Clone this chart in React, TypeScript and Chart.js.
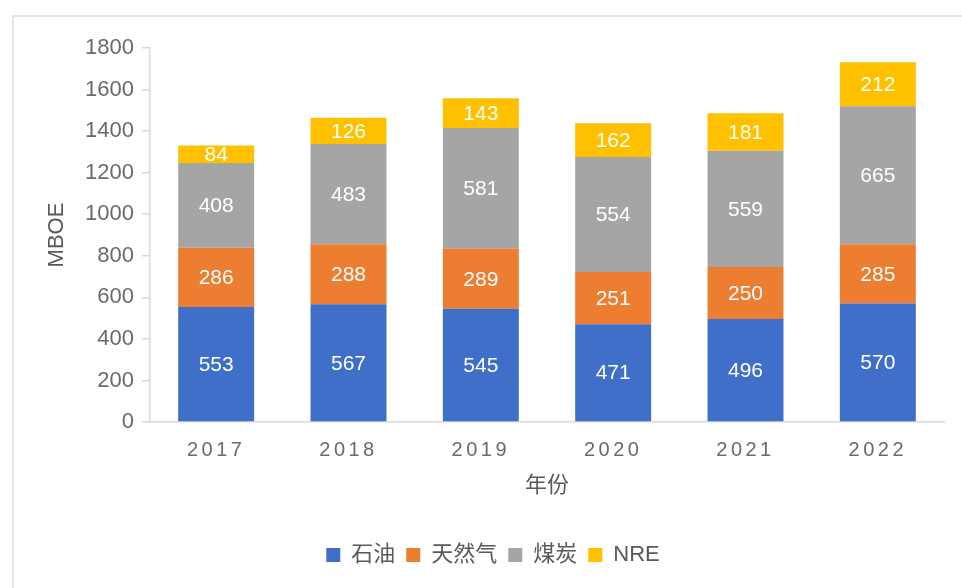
import React, { useEffect, useRef } from "react";
import { Chart, registerables } from "chart.js";

Chart.register(...registerables);

const years = ["2017", "2018", "2019", "2020", "2021", "2022"];
const oil = [553, 567, 545, 471, 496, 570];
const gas = [286, 288, 289, 251, 250, 285];
const coal = [408, 483, 581, 554, 559, 665];
const nre = [84, 126, 143, 162, 181, 212];
const seriesNames = ["石油", "天然气", "煤炭", "NRE"];
const seriesColors = ["#3F6FC8", "#ED7D31", "#A5A5A5", "#FFC000"];
const yTitle = "MBOE";
const xTitle = "年份";
const yMin = 0;
const yMax = 1800;
const yStep = 200;

const FONT = '"Liberation Sans", "Noto Sans CJK SC", sans-serif';
const TEXT = "#6a6a6a";
const AXIS = "#d9d9d9";

const valueLabels = {
  id: "valueLabels",
  afterDatasetsDraw(chart: any) {
    const ctx = chart.ctx;
    ctx.save();
    ctx.font = `21px ${FONT}`;
    ctx.fillStyle = "#ffffff";
    ctx.textAlign = "center";
    ctx.textBaseline = "middle";
    chart.data.datasets.forEach((ds: any, i: number) => {
      const meta = chart.getDatasetMeta(i);
      meta.data.forEach((bar: any, j: number) => {
        const p = bar.getProps(["x", "y", "base"], true);
        ctx.fillText(String(ds.data[j]), p.x, (p.y + p.base) / 2 + 1);
      });
    });
    ctx.restore();
    ctx.letterSpacing = "3.5px";
  },
  afterDraw(chart: any) {
    chart.ctx.letterSpacing = "0px";
  },
};

const legendShift = {
  id: "legendShift",
  afterLayout(chart: any) {
    const lg = chart.legend;
    if (lg) {
      lg.left += 21;
      lg.right += 21;
    }
  },
};

export default function App() {
  const ref = useRef<HTMLCanvasElement | null>(null);
  useEffect(() => {
    if (!ref.current) return;
    const values = [oil, gas, coal, nre];
    const chart = new Chart(ref.current, {
      type: "bar",
      data: {
        labels: years,
        datasets: values.map((v, i) => ({
          label: seriesNames[i],
          data: v,
          backgroundColor: seriesColors[i],
          borderWidth: 0,
          categoryPercentage: 1,
          barPercentage: 0.574,
        })),
      },
      plugins: [valueLabels, legendShift],
      options: {
        responsive: false,
        animation: false,
        layout: { padding: { top: 48, right: 18, bottom: 12, left: 0 } },
        plugins: {
          tooltip: { enabled: false },
          legend: {
            position: "bottom",
            labels: {
              boxWidth: 14,
              boxHeight: 14,
              padding: 11,
              color: "#595959",
              font: { family: FONT, size: 22 },
            },
          },
        },
        scales: {
          x: {
            stacked: true,
            grid: { display: false, drawTicks: false },
            border: { display: true, color: AXIS, width: 1.5 },
            ticks: { color: TEXT, font: { family: FONT, size: 20 }, padding: 16, z: 1 },
            title: {
              display: true,
              text: xTitle,
              color: "#595959",
              font: { family: FONT, size: 22 },
              padding: { top: 0, bottom: 34 },
            },
            afterFit(scale: any) {
              scale.height = 111;
            },
          },
          y: {
            stacked: true,
            min: yMin,
            max: yMax,
            grid: { drawOnChartArea: false, drawTicks: true, tickLength: 8, color: AXIS, lineWidth: 1.5 },
            border: { display: true, color: AXIS, width: 1.5 },
            ticks: {
              stepSize: yStep,
              color: TEXT,
              font: { family: FONT, size: 22 },
              padding: 8,
              callback: (v: any) => String(v),
            },
            title: {
              display: true,
              text: yTitle,
              color: "#595959",
              font: { family: FONT, size: 22 },
              padding: { top: 44, bottom: 0 },
            },
            afterFit(scale: any) {
              scale.width = 150;
            },
          },
        },
      },
    } as any);
    return () => chart.destroy();
  }, []);

  return (
    <div style={{ position: "fixed", left: 0, top: 0, width: 962, height: 588, background: "#fff", overflow: "hidden" }}>
      <div
        style={{
          position: "absolute",
          left: 12,
          top: 15,
          width: 970,
          height: 600,
          border: "2px solid #e4e4e4",
          boxSizing: "border-box",
        }}
      />
      <canvas ref={ref} width={962} height={588} style={{ position: "absolute", left: 0, top: 0 }} />
    </div>
  );
}
